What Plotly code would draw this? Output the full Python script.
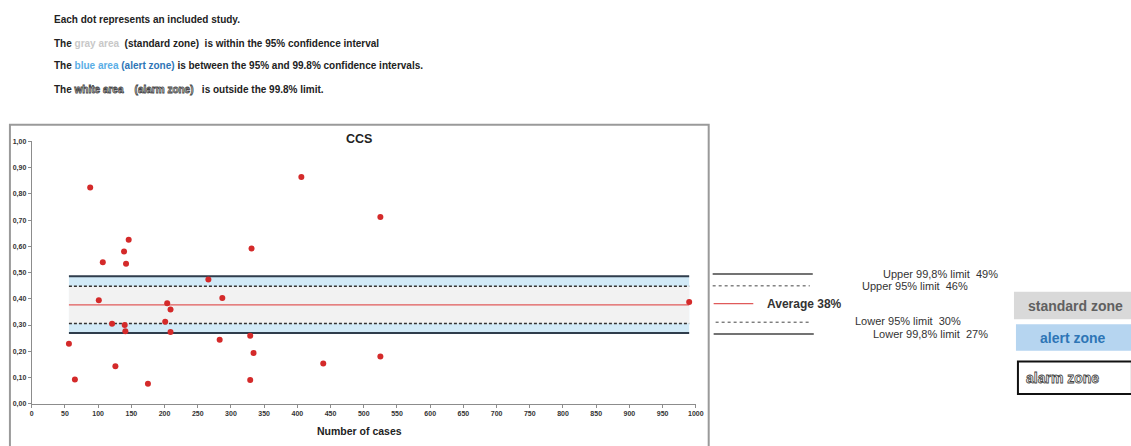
import plotly.graph_objects as go

# ---- data ----
cases = [88, 56, 65, 107, 101, 121, 126, 139, 142, 146, 140, 141, 175, 204, 209, 201, 209,
         266, 287, 283, 331, 329, 334, 329, 406, 439, 525, 525, 990]
rates = [0.825, 0.229, 0.092, 0.539, 0.395, 0.305, 0.143, 0.580, 0.534, 0.625, 0.300, 0.276,
         0.076, 0.383, 0.359, 0.313, 0.273, 0.474, 0.403, 0.244, 0.592, 0.259, 0.193, 0.090,
         0.865, 0.153, 0.712, 0.180, 0.388]
average = 0.377
upper_95 = 0.448
lower_95 = 0.306
upper_998 = 0.486
lower_998 = 0.270
x_ticks = list(range(0, 1001, 50))
y_ticks = [i / 10 for i in range(11)]
y_tick_labels = ["0,00", "0,10", "0,20", "0,30", "0,40", "0,50", "0,60", "0,70", "0,80", "0,90", "1,00"]
NB = "\u00a0"
limit_labels = [f"Upper 99,8% limit {NB}49%", f"Upper 95% limit {NB}46%", "Average 38%",
                f"Lower 95% limit {NB}30%", f"Lower 99,8% limit {NB}27%"]

W, H = 1131, 446
FONT = "Arial, Liberation Sans, sans-serif"


def px(x):
    return x / W


def py(y):
    return 1 - y / H


xmin, xmax = min(cases), max(cases)
bx = [xmin, xmax, xmax, xmin, xmin]

fig = go.Figure()
# alert zone (blue) band
fig.add_trace(go.Scatter(x=bx, y=[lower_998, lower_998, upper_998, upper_998, lower_998],
                         fill="toself", fillcolor="#d2eaf7", line=dict(width=0),
                         mode="lines", hoverinfo="skip", showlegend=False))
# standard zone (gray) band
fig.add_trace(go.Scatter(x=bx, y=[lower_95, lower_95, upper_95, upper_95, lower_95],
                         fill="toself", fillcolor="#f2f2f2", line=dict(width=0),
                         mode="lines", hoverinfo="skip", showlegend=False))
for val, dash, col, w in [(upper_998, "solid", "#2f3d4c", 2), (lower_998, "solid", "#2f3d4c", 2),
                          (upper_95, "3px,2px", "#333333", 1.4), (lower_95, "3px,2px", "#333333", 1.4),
                          (average, "solid", "#e05a5a", 1.2)]:
    fig.add_trace(go.Scatter(x=[xmin, xmax], y=[val, val], mode="lines",
                             line=dict(color=col, width=w, dash=dash),
                             hoverinfo="skip", showlegend=False))

fig.add_trace(go.Scatter(x=cases, y=rates, mode="markers",
                         marker=dict(color="#d42a2a", size=6), showlegend=False))

fig.update_layout(
    width=W, height=H, margin=dict(l=0, r=0, t=0, b=0),
    paper_bgcolor="white", plot_bgcolor="white",
    font=dict(family=FONT, color="#222"),
    xaxis=dict(domain=[px(30), px(700)], range=[0, 1000], tickvals=x_ticks,
               showgrid=False, zeroline=False, showline=True, linecolor="#8c8c8c", linewidth=1,
               ticks="outside", ticklen=3, tickcolor="#8c8c8c",
               tickfont=dict(size=7, family=FONT, color="#333", weight="bold")),
    yaxis=dict(domain=[py(407), py(140)], range=[0, 1], tickvals=y_ticks, ticktext=y_tick_labels,
               showgrid=False, zeroline=False, showline=True, linecolor="#8c8c8c", linewidth=1,
               ticks="outside", ticklen=3, tickcolor="#8c8c8c",
               tickfont=dict(size=7, family=FONT, color="#333", weight="bold")),
)

shapes = []
# chart border
shapes.append(dict(type="rect", xref="paper", yref="paper", x0=px(8), x1=px(713), y0=py(452), y1=py(123),
                   line=dict(color="#9a9a9a", width=2), fillcolor="rgba(0,0,0,0)", layer="below"))
# legend keys
shapes += [
    dict(type="line", xref="paper", yref="paper", x0=px(717), x1=px(818), y0=py(275), y1=py(275),
         line=dict(color="#444", width=1.5)),
    dict(type="line", xref="paper", yref="paper", x0=px(717), x1=px(815), y0=py(287), y1=py(287),
         line=dict(color="#444", width=1, dash="dot")),
    dict(type="line", xref="paper", yref="paper", x0=px(718), x1=px(758), y0=py(305), y1=py(305),
         line=dict(color="#e05a5a", width=1.2)),
    dict(type="line", xref="paper", yref="paper", x0=px(720), x1=px(816), y0=py(324), y1=py(324),
         line=dict(color="#444", width=1, dash="dot")),
    dict(type="line", xref="paper", yref="paper", x0=px(718), x1=px(819), y0=py(336), y1=py(336),
         line=dict(color="#444", width=1.5)),
]
# zone boxes
shapes += [
    dict(type="rect", xref="paper", yref="paper", x0=px(1021), x1=px(1140), y0=py(321), y1=py(293),
         fillcolor="#d9d9d9", line=dict(width=0)),
    dict(type="rect", xref="paper", yref="paper", x0=px(1023), x1=px(1140), y0=py(353), y1=py(326),
         fillcolor="#b6d5f0", line=dict(width=0)),
    dict(type="rect", xref="paper", yref="paper", x0=px(1025), x1=px(1140), y0=py(397), y1=py(364),
         fillcolor="white", line=dict(color="#111", width=2)),
]
fig.update_layout(shapes=shapes)

OUT = "fill:#ffffff;stroke:#444;stroke-width:0.8px"
ann = []


def text(x, y, t, size=10, bold=False, color="#222", xanchor="left"):
    dx = {"left": -3, "right": 3, "center": 0}[xanchor]
    ann.append(dict(x=px(x + dx), y=py(y), xref="paper", yref="paper", text=t, showarrow=False,
                    xanchor=xanchor, yanchor="middle",
                    font=dict(size=size, family=FONT, color=color, weight="bold" if bold else "normal")))


TS = 10
text(53, 16, "Each dot represents an included study.", TS, True)
text(53, 40, f"The <span style='color:#c8c8c8'>gray area</span> {NB}(standard zone) {NB}is within the 95% confidence interval", TS, True)
text(53, 63, "The <span style='color:#5aaee6'>blue area </span><span style='color:#2e75b6'>(alert zone)</span> is between the 95% and 99.8% confidence intervals.", TS, True)
text(53, 87, f"The <span style='{OUT}'>white area</span> {NB}{NB}{NB}<span style='{OUT}'>(alarm zone)</span> {NB}{NB}is outside the 99.8% limit.", TS, True)

text(360, 137, "CCS", 12.5, True, xanchor="center")
text(361, 435, "Number of cases", 10.5, True, xanchor="center")

LS = 11
text(1004, 275, limit_labels[0], LS, False, "#333", "right")
text(974, 287, limit_labels[1], LS, False, "#333", "right")
text(773, 305, limit_labels[2], 12, True, "#333")
text(862, 323, limit_labels[3], LS, False, "#333")
text(880, 336, limit_labels[4], LS, False, "#333")

text(1036, 308, "standard zone", 14, True, "#606060")
text(1048, 340, "alert zone", 14, True, "#2e75b6")
text(1034, 381, f"<span style='{OUT}'>alarm zone</span>", 14, True)

fig.update_layout(annotations=ann)
fig.write_html("out.html", config={"displayModeBar": False},
               post_script="document.body.style.margin='0';document.body.style.overflow='hidden';")
